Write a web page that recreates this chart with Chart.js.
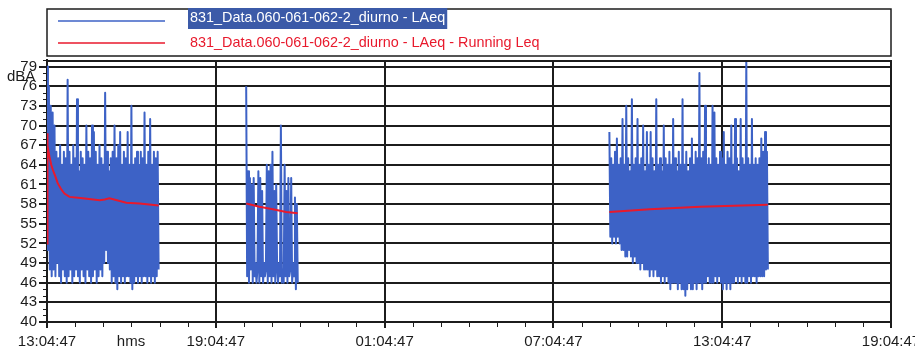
<!DOCTYPE html>
<html>
<head>
<meta charset="utf-8">
<script src="https://cdn.jsdelivr.net/npm/chart.js@4"></script>
<style>
  html, body { margin: 0; padding: 0; background: #fff; }
  canvas { display: block; }
</style>
</head>
<body>
<canvas id="c" width="915" height="352"></canvas>
<script>
// Axis labels
const xTickHours = [0, 6, 12, 18, 24, 30];
const xTickLabels = ['13:04:47', '19:04:47', '01:04:47', '07:04:47', '13:04:47', '19:04:47'];
const yTickValues = [40, 43, 46, 49, 52, 55, 58, 61, 64, 67, 70, 73, 76, 79];
const seriesNames = [
  '831_Data.060-061-062-2_diurno - LAeq',
  '831_Data.060-061-062-2_diurno - LAeq - Running Leq'
];

// LAeq samples, 2-minute interval, three measurement blocks (start in hours from 13:04:47)
const sampleStepHours = 2 / 60;
const blockStartHours = [0, 7.08, 19.99];
const laeqBlock1 = [
  79, 51, 76, 48, 73, 47, 72, 48, 70, 47,
  66, 49, 65, 47, 67, 46, 64, 48, 66, 47,
  65, 46, 77, 47, 66, 48, 64, 46, 67, 47,
  65, 48, 74, 47, 63, 46, 66, 48, 65, 47,
  64, 46, 70, 48, 66, 47, 65, 46, 70, 47,
  69, 48, 66, 46, 64, 47, 67, 48, 65, 47,
  64, 49, 75, 51, 66, 49, 63, 48, 65, 46,
  66, 47, 70, 46, 65, 45, 67, 47, 69, 46,
  64, 47, 66, 46, 65, 47, 69, 47, 64, 46,
  73, 45, 64, 46, 65, 47, 66, 46, 64, 47,
  66, 46, 65, 47, 72, 47, 64, 46, 66, 47,
  71, 46, 64, 47, 66, 46, 65, 47, 66, 48
];
const laeqBlock2 = [
  76, 47, 63, 46, 62, 48, 61, 46, 62, 47,
  49, 46, 48, 63, 46, 62, 47, 60, 46, 49,
  47, 48, 64, 46, 63, 47, 64, 46, 66, 47,
  60, 46, 61, 48, 46, 49, 47, 70, 46, 48,
  46, 64, 47, 60, 46, 62, 47, 48, 62, 46,
  49, 47, 59, 45, 58, 46
];
const laeqBlock3 = [
  69, 53, 65, 52, 64, 53, 66, 52, 68, 53,
  64, 52, 65, 51, 71, 51, 64, 50, 73, 50,
  65, 51, 63, 50, 74, 49, 64, 50, 65, 49,
  71, 49, 64, 48, 65, 49, 70, 48, 63, 48,
  69, 48, 64, 47, 69, 48, 65, 47, 63, 48,
  74, 47, 64, 47, 65, 46, 63, 47, 70, 46,
  65, 47, 64, 46, 66, 45, 64, 46, 71, 46,
  65, 46, 63, 45, 66, 46, 64, 45, 74, 45,
  64, 44, 66, 45, 63, 46, 65, 45, 68, 45,
  64, 46, 66, 45, 65, 46, 78, 46, 65, 45,
  66, 46, 73, 46, 64, 47, 65, 46, 64, 46,
  73, 46, 72, 47, 65, 46, 64, 47, 66, 46,
  65, 45, 69, 46, 64, 45, 66, 46, 65, 45,
  70, 46, 64, 46, 71, 47, 65, 46, 63, 47,
  71, 46, 65, 47, 64, 46, 80, 46, 65, 47,
  64, 46, 71, 47, 64, 47, 65, 46, 64, 47,
  65, 47, 68, 47, 66, 47, 69, 48, 66, 48
];

// Running Leq per block: time (hours) and level (dBA)
const leqHours1 = [0, 0.005, 0.03, 0.06, 0.09, 0.15, 0.21, 0.30, 0.38, 0.50, 0.62, 0.80, 1.27, 1.87, 2.05, 2.22, 2.82, 3.29, 3.97];
const leqValues1 = [52, 68.8, 66.9, 65.9, 65.2, 64.0, 63.2, 62.2, 61.2, 60.3, 59.6, 59.1, 58.9, 58.6, 58.7, 58.9, 58.2, 58.1, 57.8];
const leqHours2 = [7.08, 7.55, 8.03, 8.50, 8.91];
const leqValues2 = [58.1, 57.6, 57.2, 56.8, 56.6];
const leqHours3 = [19.99, 21.43, 23.21, 25.62];
const leqValues3 = [56.8, 57.2, 57.6, 57.9];

const BLUE = '#3d62c6';
const RED = '#e8192c';
const INK = '#1c1c1c';
const FONT = "'Liberation Sans', Arial, sans-serif";

// Build {x, y} points; a null point between blocks breaks the line
function blockPoints(blocks, starts) {
  const pts = [];
  blocks.forEach((vals, b) => {
    if (b > 0) pts.push({ x: starts[b] - 0.01, y: null });
    vals.forEach((v, i) => pts.push({ x: starts[b] + i * sampleStepHours, y: v }));
  });
  return pts;
}
function leqPoints(hoursList, valuesList) {
  const pts = [];
  hoursList.forEach((hs, b) => {
    if (b > 0) pts.push({ x: hs[0] - 0.01, y: null });
    hs.forEach((h, i) => pts.push({ x: h, y: valuesList[b][i] }));
  });
  return pts;
}

const laeqData = blockPoints([laeqBlock1, laeqBlock2, laeqBlock3], blockStartHours);
const runningData = leqPoints([leqHours1, leqHours2, leqHours3], [leqValues1, leqValues2, leqValues3]);

// Frame, minor ticks, axis captions and the boxed legend
const decor = {
  id: 'decor',
  beforeDraw(chart) {
    const c = chart.ctx;
    c.save();
    c.fillStyle = '#fff';
    c.fillRect(0, 0, chart.width, chart.height);
    c.restore();
  },
  afterDraw(chart) {
    const { ctx, chartArea: a, scales: { x, y } } = chart;
    ctx.save();
    // top border of the plot
    ctx.strokeStyle = INK;
    ctx.lineWidth = 2;
    ctx.beginPath();
    ctx.moveTo(a.left, a.top + 1);
    ctx.lineTo(a.right, a.top + 1);
    ctx.stroke();
    // minor ticks: every dBA and every hour
    ctx.lineWidth = 1;
    ctx.beginPath();
    for (let v = y.min; v <= y.max; v++) {
      const py = Math.round(y.getPixelForValue(v)) + 0.5;
      ctx.moveTo(a.left - 4, py);
      ctx.lineTo(a.left, py);
    }
    for (let h = x.min; h <= x.max; h++) {
      const px = Math.round(x.getPixelForValue(h)) + 0.5;
      ctx.moveTo(px, a.bottom);
      ctx.lineTo(px, a.bottom + 5);
    }
    ctx.stroke();

    // axis captions
    ctx.fillStyle = INK;
    ctx.font = '15px ' + FONT;
    ctx.textBaseline = 'middle';
    ctx.textAlign = 'left';
    ctx.fillText('dBA', 7, 77);
    ctx.textAlign = 'center';
    ctx.fillText('hms', 131, 342);

    // legend box
    ctx.strokeStyle = INK;
    ctx.lineWidth = 1.5;
    ctx.strokeRect(a.left, 9, a.right - a.left, 47);
    ctx.font = '14.4px ' + FONT;
    ctx.textAlign = 'left';
    // first entry (selected)
    ctx.strokeStyle = BLUE;
    ctx.lineWidth = 1.5;
    ctx.beginPath(); ctx.moveTo(58, 21); ctx.lineTo(165, 21); ctx.stroke();
    const w1 = ctx.measureText(seriesNames[0]).width;
    ctx.fillStyle = '#3b5aa8';
    ctx.fillRect(188, 8, w1 + 4, 21);
    ctx.fillStyle = '#fff';
    ctx.fillText(seriesNames[0], 190, 18.5);
    // second entry
    ctx.strokeStyle = RED;
    ctx.beginPath(); ctx.moveTo(58, 43); ctx.lineTo(165, 43); ctx.stroke();
    ctx.fillStyle = RED;
    ctx.fillText(seriesNames[1], 190, 43);
    ctx.restore();
  }
};

new Chart(document.getElementById('c'), {
  type: 'line',
  data: {
    datasets: [
      {
        label: seriesNames[1],
        data: runningData,
        borderColor: RED,
        borderWidth: 2,
        pointRadius: 0,
        order: 0
      },
      {
        label: seriesNames[0],
        data: laeqData,
        borderColor: BLUE,
        borderWidth: 2,
        borderJoinStyle: 'round',
        pointRadius: 0,
        order: 1
      }
    ]
  },
  options: {
    responsive: false,
    animation: false,
    spanGaps: false,
    layout: { padding: { top: 60, right: 24, left: 0, bottom: 0 } },
    plugins: { legend: { display: false }, tooltip: { enabled: false } },
    scales: {
      x: {
        type: 'linear',
        min: xTickHours[0],
        max: xTickHours[xTickHours.length - 1],
        afterBuildTicks(scale) { scale.ticks = xTickHours.map(v => ({ value: v })); },
        afterFit(scale) { scale.height = 30; scale.paddingLeft = 0; scale.paddingRight = 0; },
        grid: { color: INK, lineWidth: 2, tickLength: 6 },
        border: { color: INK, width: 2 },
        ticks: {
          autoSkip: false,
          maxRotation: 0,
          padding: 5,
          color: INK,
          font: { family: FONT, size: 15 },
          callback: (v) => xTickLabels[xTickHours.indexOf(v)]
        }
      },
      y: {
        type: 'linear',
        min: 40,
        max: 80,
        afterBuildTicks(scale) { scale.ticks = yTickValues.map(v => ({ value: v })); },
        afterFit(scale) { scale.width = 47; },
        grid: { color: INK, lineWidth: 2, tickLength: 8 },
        border: { color: INK, width: 2 },
        ticks: {
          autoSkip: false,
          padding: 2,
          color: INK,
          font: { family: FONT, size: 15 }
        }
      }
    }
  },
  plugins: [decor]
});
</script>
</body>
</html>
